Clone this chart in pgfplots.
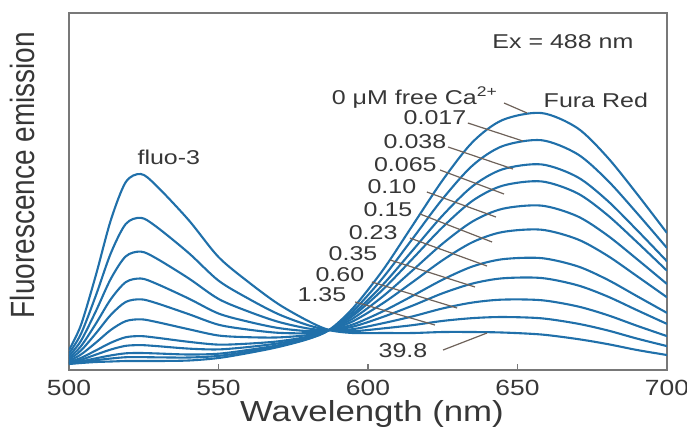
\documentclass[border=0pt]{standalone}
\usepackage{pgfplots}
\pgfplotsset{compat=1.18}
\usepackage{pgfplotstable}
\usepackage{graphicx}
\usepackage{fontspec}
\setmainfont{Liberation Sans}
\definecolor{crv}{RGB}{32,112,170}
\definecolor{txt}{RGB}{55,55,55}
\definecolor{axgray}{RGB}{120,120,120}
\definecolor{lead}{RGB}{110,98,90}
\newcommand{\hs}[1]{\scalebox{1.2}[1]{#1}}
\newcommand{\hsa}[1]{\scalebox{1.25}[1]{#1}}

% columns: c0 = 0 uM free Ca ... c10 = 39.8 uM
\pgfplotstableread{
x   c0  c1    c2    c3    c4    c5    c6    c7    c8    c9    c10
500 6   6.3   6.6   7.2   7.9   9.1   10.6  12.2  14.2  16.7  20
504 7   7.8   8.6   10.2  12.1  15.5  19.5  23.8  29.2  36.1  45
509 8   9.8   11.7  15.4  19.6  27.4  36.7  46.4  58.9  74.6  95
514 8.5 11.5  14.6  20.5  27.3  40.1  55.2  70.9  91.3  116.9 150
519 9   12.8  16.7  24.2  32.8  48.9  68.1  87.9  113.7 146.1 188
524 9   12.9  17.0  24.9  33.9  50.7  70.7  91.5  118.4 152.2 196
529 9   12.7  16.6  24.0  32.4  48.2  67.1  86.6  112.0 143.8 185
540 9.5 12.5  15.5  21.4  28.2  40.8  55.9  71.5  91.7  117.1 150
550 12  14.1  16.3  20.6  25.4  34.5  45.3  56.5  71.1  89.4  113
560 17  18.5  20.1  23.0  26.4  32.8  40.4  48.3  58.5  71.4  88
570 23  23.9  24.8  26.7  28.7  32.6  37.2  42.0  48.2  55.9  66
580 31  31.4  31.8  32.5  33.4  35.0  36.9  38.9  41.5  44.8  49
587 40  40    40    40    40    40    40    40    40    40    40
595 62  58.9  56.2  54.3  51.6  48.8  45.6  43.4  40.9  38.8  37
605 100 92.3  85.4  80.5  73.7  66.8  58.7  53.1  46.8  41.6  37
615 145 131.7 119.9 111.6 99.9  88.1  74.3  64.5  53.7  44.9  37
625 190 171.3 154.7 143.0 126.5 109.9 90.4  76.8  61.6  49.1  38
635 228 204.6 183.9 169.3 148.6 127.9 103.6 86.5  67.5  51.9  38
645 250 223.9 200.7 184.3 161.2 138.0 110.8 91.7  70.4  53.0  37.5
658 257 229.8 205.6 188.6 164.4 140.3 111.9 92.0  69.8  51.7  35.5
670 242 216.0 193.0 176.8 153.8 130.8 103.8 84.8  63.7  46.4  31
680 213 190.0 169.6 155.2 134.8 114.5 90.5  73.7  55.0  39.7  26
690 176 156.8 139.8 127.8 110.8 93.8  73.8  59.8  44.2  31.4  20
700 137 122.0 108.7 99.3  86.0  72.7  57.1  46.1  33.9  23.9  15
}\spectra

\begin{document}
\begin{tikzpicture}
\begin{axis}[
  scale only axis, width=299pt, height=178.5pt,
  xmin=500, xmax=700, ymin=0, ymax=357,
  xtick={500,550,600,650,700},
  xticklabels={\hs{500},\hs{550},\hs{600},\hs{650},\hs{700}},
  ytick=\empty,
  xtick pos=left, tick align=inside, major tick length=3pt,
  axis line style={axgray, line width=0.9pt},
  tick style={axgray, line width=0.9pt},
  xticklabel style={font=\fontsize{11}{13}\selectfont, text=txt, yshift=-1.3pt},
  xlabel={\hs{Wavelength (nm)}},
  ylabel={\scalebox{1}[1.2]{Fluorescence emission}},
  xlabel style={font=\fontsize{14.5}{17}\selectfont, text=txt,
    at={(axis description cs:0.5,0)}, anchor=base, yshift=-25.5pt, xshift=2pt},
  ylabel style={font=\fontsize{14}{17}\selectfont, text=txt,
    at={(axis description cs:-0.0786,0.546)}, anchor=center},
  no markers,
  every axis plot post/.append style={draw=crv, solid, line width=1.05pt, smooth, tension=0.5},
]
\addplot table[x=x,y=c0]{\spectra};
\addplot table[x=x,y=c1]{\spectra};
\addplot table[x=x,y=c2]{\spectra};
\addplot table[x=x,y=c3]{\spectra};
\addplot table[x=x,y=c4]{\spectra};
\addplot table[x=x,y=c5]{\spectra};
\addplot table[x=x,y=c6]{\spectra};
\addplot table[x=x,y=c7]{\spectra};
\addplot table[x=x,y=c8]{\spectra};
\addplot table[x=x,y=c9]{\spectra};
\addplot table[x=x,y=c10]{\spectra};

% leader lines
\draw[lead, line width=0.6pt] (axis cs:645.5,267) -- (axis cs:653.2,257);
\draw[lead, line width=0.6pt] (axis cs:633.4,247) -- (axis cs:651.8,229);
\draw[lead, line width=0.6pt] (axis cs:626.8,223) -- (axis cs:648.5,201);
\draw[lead, line width=0.6pt] (axis cs:624.1,200) -- (axis cs:645.5,176);
\draw[lead, line width=0.6pt] (axis cs:619.7,178) -- (axis cs:642.8,153);
\draw[lead, line width=0.6pt] (axis cs:617.4,156) -- (axis cs:641.5,128);
\draw[lead, line width=0.6pt] (axis cs:614.0,132) -- (axis cs:639.8,104);
\draw[lead, line width=0.6pt] (axis cs:607.4,110) -- (axis cs:635.8,83);
\draw[lead, line width=0.6pt] (axis cs:601.3,88) -- (axis cs:629.8,62);
\draw[lead, line width=0.6pt] (axis cs:595.7,68) -- (axis cs:622.4,45);
\draw[lead, line width=0.6pt] (axis cs:625.1,20) -- (axis cs:639.8,37);

% labels
\begin{scope}[every node/.style={font=\fontsize{10}{12}\selectfont, text=txt, inner sep=0pt}]
\node at (axis cs:665.2,328) {\hsa{Ex = 488 nm}};
\node[anchor=base] at (axis cs:615.7,266) {\hsa{0 μM free Ca\textsuperscript{2+}}};
\node at (axis cs:676.2,270) {\hsa{Fura Red}};
\node at (axis cs:533.4,213) {\hsa{fluo-3}};
\node at (axis cs:622.4,252) {\hsa{0.017}};
\node at (axis cs:615.7,228) {\hsa{0.038}};
\node at (axis cs:612.5,205) {\hsa{0.065}};
\node at (axis cs:608.0,183) {\hsa{0.10}};
\node at (axis cs:606.7,160) {\hsa{0.15}};
\node at (axis cs:601.7,137) {\hsa{0.23}};
\node at (axis cs:595.0,116) {\hsa{0.35}};
\node at (axis cs:590.6,95) {\hsa{0.60}};
\node at (axis cs:584.6,75) {\hsa{1.35}};
\node at (axis cs:611.7,19) {\hsa{39.8}};
\end{scope}
\end{axis}
\pgfresetboundingbox
\path ([shift={(-34.5pt,-34.5pt)}]current axis.south west) rectangle ([shift={(10pt,6.5pt)}]current axis.north east);
\end{tikzpicture}
\end{document}
